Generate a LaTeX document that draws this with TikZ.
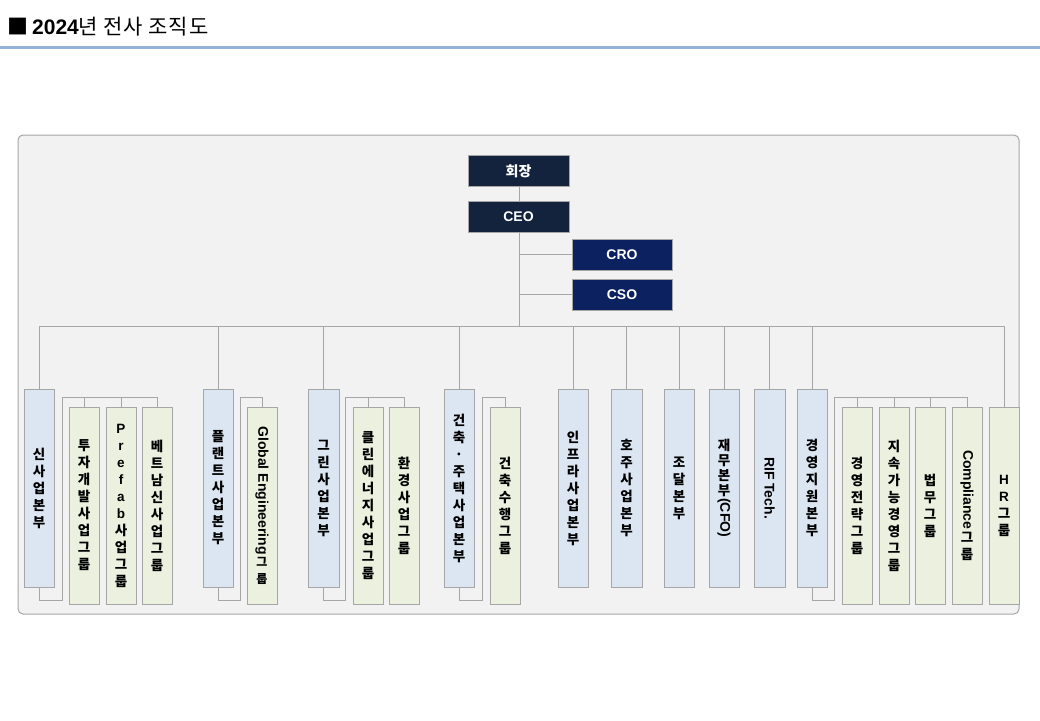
\documentclass[tikz,border=0pt]{standalone}
\usepackage{fontspec}
\setmainfont{Liberation Sans}
\newfontfamily\kr{Noto Sans CJK KR}
\newfontfamily\lat{Liberation Sans}
\definecolor{navyA}{HTML}{13233D}
\definecolor{navyB}{HTML}{0C2160}
\definecolor{bluebox}{HTML}{DCE6F2}
\definecolor{greenbox}{HTML}{EBF1DE}
\definecolor{linegray}{HTML}{A6A6A6}
\definecolor{panelfill}{HTML}{F2F2F2}
\definecolor{rulecol}{HTML}{95B3D7}
\newcommand{\rl}[1]{\rotatebox{-90}{\lat\fontsize{14}{16}\selectfont #1}}
\begin{document}
\begin{tikzpicture}[x=1pt,y=-1pt,
  conn/.style={draw=linegray, line width=1pt},
  topbox/.style={draw=linegray, line width=1pt, text=white, font=\fontsize{14}{16}\kr\bfseries, minimum width=101, minimum height=31, inner sep=0, outer sep=0},
  vbox/.style={draw=linegray, line width=0.8pt, minimum width=30, inner sep=0, outer sep=0, align=center, font=\fontsize{13.5}{17}\kr\bfseries},
  bluebx/.style={vbox, fill=bluebox, minimum height=198},
  greenbx/.style={vbox, fill=greenbox, minimum height=197}]
\useasboundingbox (0,0) rectangle (1040,720);
\fill[white] (0,0) rectangle (1040,720);
% title
\node[anchor=west, inner sep=0] (title) at (7,27) {{\kr\fontsize{21}{24}\selectfont ■}\hspace{4pt}{\fontsize{21}{24}\selectfont\bfseries 2024}{\kr\fontsize{21}{24}\selectfont\addfontfeature{LetterSpace=4} 년 전사 조직도}};
\fill[rulecol] (0,46) rectangle (1040,49);
% panel
\draw[draw=linegray, fill=panelfill, line width=1pt, rounded corners=5pt] (18,135) rectangle (1019,614);
% top
\node[topbox, fill=navyA] (chair) at (518.5,171) {회장};
\node[topbox, fill=navyA] (ceo) at (518.5,216.5) {\lat CEO};
\node[topbox, fill=navyB, minimum width=100] (cro) at (622,254.5) {\lat CRO};
\node[topbox, fill=navyB, minimum width=100] (cso) at (622,294.5) {\lat CSO};
\coordinate (hub) at (519,326);
\coordinate (busL) at (40,326);
\coordinate (busR) at (1004,326);
\draw[conn] (519,186) -- (519,201);
\draw[conn] (519,232) -- (hub);
\draw[conn] (cro.west) -- (cro.west -| hub);
\draw[conn] (cso.west) -- (cso.west -| hub);
\draw[conn] (busL) -- (busR);
% level 1
\node[bluebx] (b1) at (39,488) {신\\사\\업\\본\\부};
\node[bluebx] (b2) at (218,488) {플\\랜\\트\\사\\업\\본\\부};
\node[bluebx, minimum width=31] (b3) at (323.5,488) {그\\린\\사\\업\\본\\부};
\node[bluebx] (b4) at (459,488) {건\\축\\·\\주\\택\\사\\업\\본\\부};
\node[bluebx] (b5) at (573,488) {인\\프\\라\\사\\업\\본\\부};
\node[bluebx, minimum width=31] (b6) at (626.5,488) {호\\주\\사\\업\\본\\부};
\node[bluebx] (b7) at (679,488) {조\\달\\본\\부};
\node[bluebx, font=\fontsize{13.5}{15}\kr\bfseries] (b8) at (724,488) {재\\무\\본\\부\\[-12pt]\rl{(CFO)}};
\node[bluebx, minimum width=31] (b9) at (769.5,488) {\rl{RIF Tech.}};
\node[bluebx] (b10) at (812,488) {경\\영\\지\\원\\본\\부};
\node[greenbx] (hr) at (1004,505.5) {{\lat H}\\{\lat R}\\그\\룹};
% groups
\node[greenbx] (g1a) at (84,505.5) {투\\자\\개\\발\\사\\업\\그\\룹};
\node[greenbx] (g1b) at (121,505.5) {{\lat P}\\{\lat r}\\{\lat e}\\{\lat f}\\{\lat a}\\{\lat b}\\사\\업\\그\\룹};
\node[greenbx] (g1c) at (157,505.5) {베\\트\\남\\신\\사\\업\\그\\룹};
\node[greenbx] (g2a) at (262,505.5) {\rl{Global Engineering}\\[2pt]{\fontsize{12}{15}\selectfont 그}\\{\fontsize{12}{15}\selectfont 룹}};
\node[greenbx] (g3a) at (368,505.5) {클\\린\\에\\너\\지\\사\\업\\그\\룹};
\node[greenbx] (g3b) at (404,505.5) {환\\경\\사\\업\\그\\룹};
\node[greenbx] (g4a) at (505,505.5) {건\\축\\수\\행\\그\\룹};
\node[greenbx] (g10a) at (857,505.5) {경\\영\\전\\략\\그\\룹};
\node[greenbx] (g10b) at (894,505.5) {지\\속\\가\\능\\경\\영\\그\\룹};
\node[greenbx] (g10c) at (930,505.5) {법\\무\\그\\룹};
\node[greenbx] (g10d) at (967,505.5) {\rl{Compliance}\\[2pt]그\\룹};
% bus drops
\foreach \n in {b1,b2,b3,b4,b5,b6,b7,b8,b9,b10,hr}
  \draw[conn] (\n.north |- busL) -- (\n.north);
% brackets
\coordinate (k1a) at (62,600); \coordinate (k1b) at (62,397);
\draw[conn] (b1.south) |- (k1a) -- (k1b) -| (g1c.north);
\draw[conn] (g1a.north |- k1b) -- (g1a.north) (g1b.north |- k1b) -- (g1b.north);
\coordinate (k2a) at (240,600); \coordinate (k2b) at (240,397);
\draw[conn] (b2.south) |- (k2a) -- (k2b) -| (g2a.north);
\coordinate (k3a) at (345,600); \coordinate (k3b) at (345,397);
\draw[conn] (b3.south) |- (k3a) -- (k3b) -| (g3b.north);
\draw[conn] (g3a.north |- k3b) -- (g3a.north);
\coordinate (k4a) at (482,600); \coordinate (k4b) at (482,397);
\draw[conn] (b4.south) |- (k4a) -- (k4b) -| (g4a.north);
\coordinate (k10a) at (834,600); \coordinate (k10b) at (834,397);
\draw[conn] (b10.south) |- (k10a) -- (k10b) -| (g10d.north);
\draw[conn] (g10a.north |- k10b) -- (g10a.north) (g10b.north |- k10b) -- (g10b.north) (g10c.north |- k10b) -- (g10c.north);
\end{tikzpicture}
\end{document}
